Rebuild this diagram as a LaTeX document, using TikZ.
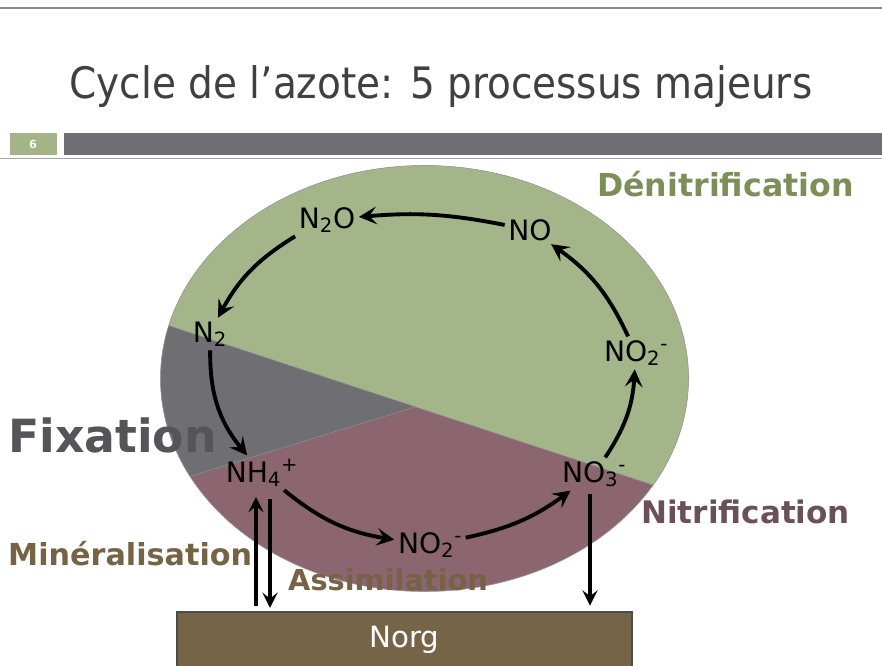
\documentclass[tikz,border=0pt]{standalone}
\usepackage{fontspec}
\setmainfont{DejaVu Sans}
\newfontfamily\titlefont{DejaVu Sans Condensed}
\usetikzlibrary{arrows.meta}

\definecolor{denit}{RGB}{165,181,138}
\definecolor{fixgrey}{RGB}{111,111,115}
\definecolor{nitrif}{RGB}{139,101,112}
\definecolor{denittext}{RGB}{124,143,88}
\definecolor{fixtext}{RGB}{84,84,89}
\definecolor{nitriftext}{RGB}{108,80,88}
\definecolor{mintext}{RGB}{118,98,68}
\definecolor{soil}{RGB}{118,100,72}
\definecolor{barbox}{RGB}{165,180,135}

\tikzset{
  chem/.style={font=\fontsize{24}{27}\selectfont, inner sep=3pt, anchor=base},
  proc/.style={font=\bfseries, anchor=base west, inner sep=0pt},
  cycarrow/.style={line width=3.3pt, -{Stealth[length=15pt,width=15pt,inset=6pt]}},
  soilarrow/.style={line width=2.6pt, -{Stealth[length=13pt,width=13pt,inset=5pt]}}
}

\begin{document}
\begin{tikzpicture}[x=0.03cm,y=0.03cm]
  \useasboundingbox (0,0) rectangle (882,-666);
  \clip (0,0) rectangle (882,-666);
  \fill[white] (0,0) rectangle (882,-666);

  % header
  \draw[gray!90, line width=1.2pt] (0,-8) -- (882,-8);
  \node[anchor=base, text=black!75, font=\titlefont\fontsize{37}{40}\selectfont]
    (title) at (441,-98) {Cycle de l’azote: 5 processus majeurs};
  \fill[barbox] (10,-133) rectangle (57,-155);
  \fill[fixgrey] (64,-133) rectangle (882,-155);
  \draw[gray!70, line width=0.8pt] (0,-158) -- (882,-158);
  \node[text=white, font=\bfseries\fontsize{9.5}{11}\selectfont] (page) at (33,-144) {6};

  % the three parts of the cycle
  \fill[nitrif] (424.5,-378.5) ellipse [x radius=264, y radius=213];
  \begin{scope}
    \clip (424.5,-378.5) ellipse [x radius=264, y radius=213];
    \fill[denit] (100,-303) -- (750,-517) -- (750,-100) -- (100,-100) -- cycle;
    \fill[fixgrey] (415,-407) -- (100,-303) -- (100,-504) -- cycle;
    \draw[black!45, line width=0.5pt] (100,-303) -- (750,-517);
    \draw[black!45, line width=0.5pt] (415,-407) -- (100,-504);
  \end{scope}
  \draw[black!40, line width=0.5pt] (424.5,-378.5) ellipse [x radius=264, y radius=213];

  % soil organic nitrogen
  \node[draw=black!70, fill=soil, line width=1pt, minimum width=13.65cm,
    minimum height=1.68cm, text=white, font=\fontsize{25}{28}\selectfont]
    (norg) at (404.5,-640) {Norg};

  % species
  \node[chem] (n2o) at (327,-228) {N\textsubscript{2}O};
  \node[chem] (no) at (530,-240) {NO};
  \node[chem] (no2r) at (636,-361) {NO\textsubscript{2}\textsuperscript{-}};
  \node[chem] (no3) at (594,-482) {NO\textsubscript{3}\textsuperscript{-}};
  \node[chem] (no2b) at (430,-553) {NO\textsubscript{2}\textsuperscript{-}};
  \node[chem] (nh4) at (262,-482) {NH\textsubscript{4}\textsuperscript{+}};
  \node[chem] (n2) at (210,-342) {N\textsubscript{2}};

  \draw[cycarrow] (no) to[bend right=8] (n2o);
  \draw[cycarrow] (n2o.south west) to[bend right=15] (n2);
  \draw[cycarrow] (n2) to[bend right=20] (nh4);
  \draw[cycarrow] (nh4) to[bend right=15] (no2b);
  \draw[cycarrow] (no2b) to[bend right=12] (no3);
  \draw[cycarrow] (no3) to[bend right=15] (no2r);
  \draw[cycarrow] (no2r) to[bend right=15] (no);

  \coordinate (mup) at (256,-497);
  \coordinate (mdown) at (270,-499);
  \coordinate (nitro) at (590,-494);
  \draw[soilarrow] ([yshift=5pt]mup |- norg.north) -- (mup);
  \draw[soilarrow] (mdown) -- ([yshift=3pt]mdown |- norg.north);
  \draw[soilarrow] (nitro) -- ([yshift=5pt]nitro |- norg.north);

  % processes
  \node[proc, text=denittext, font=\bfseries\fontsize{27}{30}\selectfont] (denitlab) at (597,-196) {Dénitrification};
  \node[proc, text=fixtext, font=\bfseries\fontsize{39}{42}\selectfont] (fixlab) at (8,-452) {Fixation};
  \node[proc, text=nitriftext, font=\bfseries\fontsize{26.5}{28}\selectfont] (nitriflab) at (641,-523) {Nitrification};
  \node[proc, text=mintext, font=\bfseries\fontsize{25.8}{27}\selectfont] (minlab) at (8,-565) {Minéralisation};
  \node[proc, text=mintext, font=\bfseries\fontsize{24.6}{27}\selectfont] (assimlab) at (288,-590) {Assimilation};
\end{tikzpicture}
\end{document}
